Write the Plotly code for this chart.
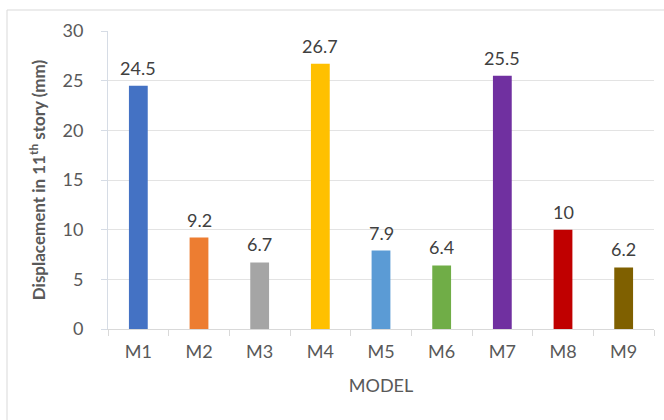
import plotly.graph_objects as go

models = ["M1", "M2", "M3", "M4", "M5", "M6", "M7", "M8", "M9"]
displacement = [24.5, 9.2, 6.7, 26.7, 7.9, 6.4, 25.5, 10, 6.2]
labels = ["24.5", "9.2", "6.7", "26.7", "7.9", "6.4", "25.5", "10", "6.2"]
colors = ["#4472C4", "#ED7D31", "#A5A5A5", "#FFC000", "#5B9BD5",
          "#70AD47", "#7030A0", "#C00000", "#7F6000"]

fig = go.Figure(go.Bar(
    x=models, y=displacement,
    marker=dict(color=colors, line=dict(width=0)),
))

for m, v, t in zip(models, displacement, labels):
    fig.add_annotation(x=m, y=v, text=t, showarrow=False, yanchor="bottom",
                       yshift=5, font=dict(size=18, color="#404040", family="Lato"))

fig.update_layout(
    width=664, height=420,
    margin=dict(l=108, r=10, t=31, b=91),
    paper_bgcolor="white", plot_bgcolor="white",
    bargap=0.69,
    showlegend=False,
    font=dict(family="Lato", color="#595959"),
    xaxis=dict(
        title=dict(text="MODEL", font=dict(size=18, color="#595959"), standoff=18),
        tickfont=dict(size=18, color="#595959"),
        showline=True, linecolor="#D9D9D9", linewidth=1,
        ticks="outside", tickson="boundaries", ticklen=6, tickcolor="#D9D9D9",
        ticklabelstandoff=6,
        showgrid=False,
    ),
    yaxis=dict(
        title=dict(text="<b>Displacement in 11<sup>th</sup> story (mm)</b>",
                   font=dict(size=17, color="#595959"), standoff=12),
        range=[0, 30], dtick=5,
        tickfont=dict(size=18, color="#595959"),
        showline=True, linecolor="#D6DCE5", linewidth=1,
        gridcolor="#E3E3E3", gridwidth=1,
        ticks="outside", ticklen=6, tickcolor="#D6DCE5",
        ticklabelstandoff=14,
        zeroline=False,
    ),
)

fig.add_shape(type="rect", xref="paper", yref="paper",
              x0=(7 - 108) / 546, x1=1.1, y0=-0.5, y1=(329 - 10) / 298,
              line=dict(color="#D9D9D9", width=1), fillcolor="rgba(0,0,0,0)",
              layer="below")

fig.write_html("out.html")
